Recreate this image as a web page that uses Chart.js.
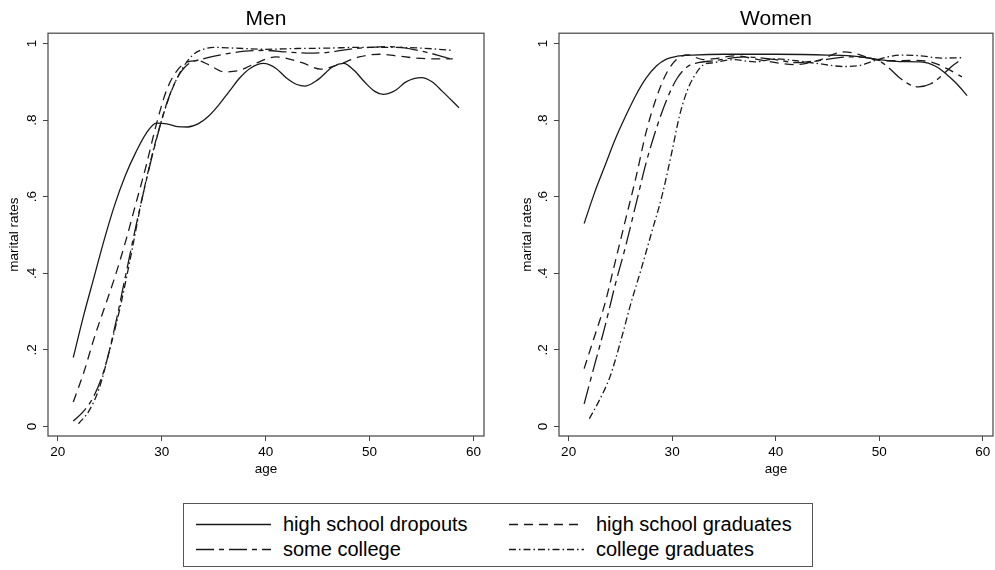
<!DOCTYPE html>
<html>
<head>
<meta charset="utf-8">
<script src="https://cdn.jsdelivr.net/npm/chart.js@4/dist/chart.umd.min.js"></script>
<style>
  body { margin: 0; background: #fff; width: 995px; height: 570px; position: relative; overflow: hidden;
         font-family: "Liberation Sans", Arial, sans-serif; }
  canvas { position: absolute; top: 0; }
  #menChart { left: 0; }
  #womenChart { left: 500px; }
  #legend { position: absolute; left: 183px; top: 503px; width: 628px; height: 62px;
            border: 1px solid #555; box-sizing: content-box; }
  .item { position: absolute; height: 24px; font-size: 20px; line-height: 24px; color: #000; white-space: nowrap; }
  .item svg { position: absolute; left: 0; top: 0; }
  .item span { position: absolute; left: 87px; top: 0; }
</style>
</head>
<body>
<canvas id="menChart" width="500" height="480"></canvas>
<canvas id="womenChart" width="495" height="480"></canvas>
<div id="legend"></div>

<script>
// ---------- data: smoothed marital rates by age ----------
const GROUPS = ["high school dropouts", "high school graduates", "some college", "college graduates"];
const X_TICKS = [20, 30, 40, 50, 60];
const Y_TICKS = [0, 0.2, 0.4, 0.6, 0.8, 1];

// Men
const menDropAge = [21.5, 22.5, 23.5, 24.5, 25.5, 26.5, 27.5, 28.5, 29.5, 30.5, 31.5, 32.5, 33.5, 34.5, 35.5, 36.5, 37.5, 38.5, 39.8, 41, 42, 43, 43.8, 45, 46.5, 47.5, 48.5, 49.5, 50.5, 51.3, 52.5, 53.5, 55, 56, 57, 58.6];
const menDropRate = [0.18, 0.29, 0.39, 0.49, 0.58, 0.655, 0.715, 0.765, 0.792, 0.79, 0.783, 0.782, 0.79, 0.81, 0.84, 0.875, 0.91, 0.935, 0.948, 0.935, 0.91, 0.893, 0.889, 0.905, 0.94, 0.948, 0.93, 0.9, 0.875, 0.867, 0.878, 0.9, 0.911, 0.9, 0.875, 0.832];

const menHsAge = [21.5, 22.5, 23.5, 24.5, 25.5, 26.5, 27.5, 28.5, 29.5, 30.5, 31.5, 32.5, 33.5, 34.5, 36, 37.5, 39, 41, 43.5, 45.3, 47, 49, 51, 52.5, 54.5, 56, 58];
const menHsRate = [0.064, 0.14, 0.23, 0.31, 0.39, 0.48, 0.58, 0.68, 0.79, 0.88, 0.93, 0.952, 0.955, 0.945, 0.926, 0.93, 0.948, 0.965, 0.95, 0.933, 0.945, 0.965, 0.972, 0.968, 0.962, 0.96, 0.96];

const menSomeAge = [21.5, 22.5, 23.5, 24.5, 25.5, 26.5, 27.5, 28.5, 29.5, 30.5, 31.5, 32.5, 34, 36, 38, 40, 42, 44, 46, 48, 50, 51.5, 53, 55, 56.5, 58];
const menSomeRate = [0.014, 0.04, 0.08, 0.15, 0.26, 0.39, 0.52, 0.64, 0.75, 0.845, 0.91, 0.945, 0.96, 0.972, 0.98, 0.982, 0.978, 0.975, 0.977, 0.985, 0.99, 0.992, 0.99, 0.98, 0.97, 0.958];

const menColAge = [22, 23, 24, 25, 26, 27, 28, 29, 30, 31, 32, 33, 34, 35, 37, 40, 43, 46, 49, 52, 55, 58];
const menColRate = [0.007, 0.04, 0.1, 0.2, 0.31, 0.44, 0.58, 0.7, 0.8, 0.88, 0.935, 0.97, 0.985, 0.99, 0.988, 0.985, 0.987, 0.988, 0.99, 0.99, 0.988, 0.982];

// Women
const womenDropAge = [21.5, 22.5, 23.5, 24.5, 25.5, 26.5, 27.5, 28.5, 29.5, 30.5, 32, 35, 40, 45, 48, 50, 52, 54, 55.5, 56.5, 57.5, 58.5];
const womenDropRate = [0.53, 0.61, 0.68, 0.75, 0.81, 0.865, 0.91, 0.942, 0.96, 0.967, 0.97, 0.972, 0.972, 0.97, 0.966, 0.958, 0.953, 0.952, 0.94, 0.92, 0.895, 0.864];

const womenHsAge = [21.5, 22.5, 23.5, 24.5, 25.5, 26.5, 27.5, 28.5, 29.5, 30.5, 31.5, 33, 34.5, 36, 38, 40, 42, 44, 46.6, 48, 49.5, 51, 53, 55, 56.5, 58];
const womenHsRate = [0.151, 0.235, 0.32, 0.43, 0.54, 0.65, 0.77, 0.86, 0.925, 0.96, 0.97, 0.958, 0.962, 0.968, 0.96, 0.95, 0.945, 0.955, 0.978, 0.972, 0.958, 0.955, 0.956, 0.952, 0.935, 0.913];

const womenSomeAge = [21.5, 22.5, 23.5, 24.5, 25.5, 26.5, 27.5, 28.5, 29.5, 30.5, 31.5, 32.5, 34, 37, 40, 42, 44, 47, 49, 50, 51, 52, 53, 53.8, 55, 56, 57, 58];
const womenSomeRate = [0.059, 0.16, 0.26, 0.37, 0.47, 0.58, 0.69, 0.78, 0.855, 0.91, 0.94, 0.95, 0.955, 0.965, 0.958, 0.95, 0.955, 0.965, 0.962, 0.955, 0.935, 0.91, 0.892, 0.887, 0.895, 0.915, 0.94, 0.96];

const womenColAge = [22, 23, 24, 25, 26, 27, 28, 29, 30, 30.7, 31.5, 32.1, 33, 34, 36, 38, 40, 42, 44, 46.6, 48, 49.5, 51, 52, 54, 56, 58];
const womenColRate = [0.02, 0.07, 0.13, 0.22, 0.32, 0.41, 0.505, 0.6, 0.72, 0.81, 0.88, 0.913, 0.944, 0.95, 0.958, 0.952, 0.96, 0.955, 0.948, 0.94, 0.942, 0.955, 0.966, 0.97, 0.968, 0.962, 0.963];

// ---------- styling ----------
const INK = "#1a1a1a";
const DASHES = [[], [9, 6], [18, 5, 5, 5], [7, 3, 1.5, 3]];
const FONT = "'Liberation Sans', Arial, sans-serif";

function pts(ages, rates) {
  return ages.map((a, i) => ({ x: a, y: rates[i] }));
}

function makeDatasets(series) {
  return series.map(([ages, rates], i) => ({
    label: GROUPS[i],
    data: pts(ages, rates),
    borderColor: INK,
    borderWidth: 1.3,
    borderDash: DASHES[i],
    pointRadius: 0,
    fill: false,
    cubicInterpolationMode: "monotone"
  }));
}

// box around the plot region, like a framed graph
const frame = {
  id: "frame",
  afterDraw(chart) {
    const { ctx, chartArea: a } = chart;
    ctx.save();
    ctx.strokeStyle = "#444";
    ctx.lineWidth = 1.2;
    ctx.strokeRect(a.left, a.top, a.right - a.left, a.bottom - a.top);
    ctx.restore();
  }
};

function fmtRate(v) {
  if (v === 0) return "0";
  if (v === 1) return "1";
  return String(v).replace(/^0/, "");
}

function makeChart(id, title, series, yWidth, yTitlePad, padRight) {
  return new Chart(document.getElementById(id), {
    type: "line",
    data: { datasets: makeDatasets(series) },
    plugins: [frame],
    options: {
      responsive: false,
      animation: false,
      layout: { padding: { top: 0, right: padRight, bottom: 0, left: 0 } },
      plugins: {
        legend: { display: false },
        tooltip: { enabled: false },
        title: {
          display: true, text: title, fullSize: false, color: "#000",
          font: { family: FONT, size: 21, weight: "normal", lineHeight: 1.2 },
          padding: { top: 7, bottom: 1 }
        }
      },
      scales: {
        x: {
          type: "linear", min: 19.07, max: 61,
          afterFit: s => { s.height = 44; },
          afterBuildTicks: s => { s.ticks = X_TICKS.map(v => ({ value: v })); },
          border: { display: false },
          grid: { drawOnChartArea: false, drawTicks: true, tickLength: 5, color: "#444" },
          ticks: { color: "#000", padding: 3, font: { family: FONT, size: 13.5 } },
          title: { display: true, text: "age", color: "#000", padding: { top: 0, bottom: 3 },
                   font: { family: FONT, size: 13.5, lineHeight: 1.2 } }
        },
        y: {
          type: "linear", min: -0.025, max: 1.027,
          afterFit: s => { s.width = yWidth; },
          afterBuildTicks: s => { s.ticks = Y_TICKS.map(v => ({ value: v })); },
          border: { display: false },
          grid: { drawOnChartArea: false, drawTicks: true, tickLength: 5, color: "#444" },
          ticks: { color: "#000", padding: 5, minRotation: 90, maxRotation: 90, crossAlign: "center",
                   font: { family: FONT, size: 13.5 }, callback: v => fmtRate(v) },
          title: { display: true, text: "marital rates", color: "#000", padding: { top: yTitlePad, bottom: 0 },
                   font: { family: FONT, size: 13.5, lineHeight: 1.2 } }
        }
      }
    }
  });
}

makeChart("menChart", "Men", [
  [menDropAge, menDropRate], [menHsAge, menHsRate], [menSomeAge, menSomeRate], [menColAge, menColRate]
], 48, 6, 16);

makeChart("womenChart", "Women", [
  [womenDropAge, womenDropRate], [womenHsAge, womenHsRate], [womenSomeAge, womenSomeRate], [womenColAge, womenColRate]
], 59, 19, 2);

// ---------- shared legend ----------
const legendPos = [[12, 8], [325, 8], [12, 33], [325, 33]];
const legend = document.getElementById("legend");
GROUPS.forEach((name, i) => {
  const item = document.createElement("div");
  item.className = "item";
  item.style.left = legendPos[i][0] + "px";
  item.style.top = legendPos[i][1] + "px";
  const dash = DASHES[i].length ? ` stroke-dasharray="${DASHES[i].join(" ")}"` : "";
  item.innerHTML = `<svg width="76" height="24"><line x1="0" y1="12.5" x2="75" y2="12.5" stroke="${INK}" stroke-width="1.4"${dash}/></svg><span>${name}</span>`;
  legend.appendChild(item);
});
</script>
</body>
</html>
